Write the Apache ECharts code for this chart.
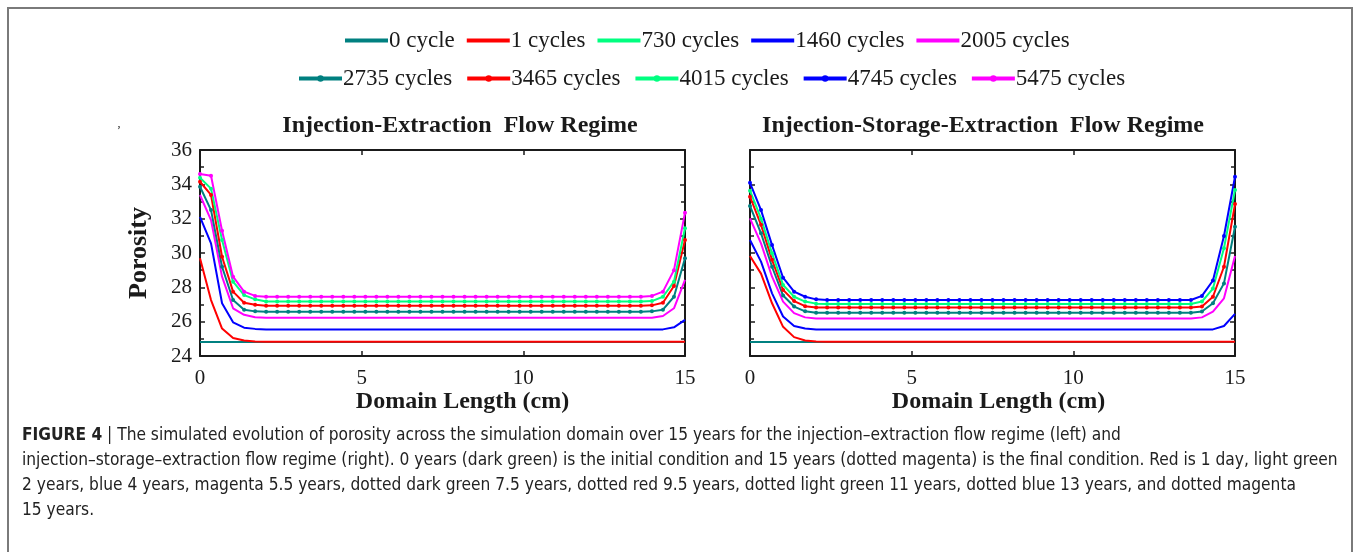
<!DOCTYPE html>
<html>
<head>
<meta charset="utf-8">
<script src="https://cdn.jsdelivr.net/npm/echarts@6/dist/echarts.min.js"></script>
<style>
  html, body { margin: 0; padding: 0; background: #fff; }
  #main { width: 1357px; height: 552px; }
</style>
</head>
<body>
<div id="main"></div>
<script>
var chartDom = document.getElementById('main');
var myChart = echarts.init(chartDom);
var option;

// node positions along the domain (cm)
const xs = [
  0, 0.341, 0.682, 1.023, 1.364, 1.705, 2.045, 2.386, 2.727,
  3.068, 3.409, 3.75, 4.091, 4.432, 4.773, 5.114, 5.455, 5.795,
  6.136, 6.477, 6.818, 7.159, 7.5, 7.841, 8.182, 8.523, 8.864,
  9.205, 9.545, 9.886, 10.227, 10.568, 10.909, 11.25, 11.591, 11.932,
  12.273, 12.614, 12.955, 13.295, 13.636, 13.977, 14.318, 14.659, 15,
];

const names = ['0 cycle', '1 cycles', '730 cycles', '1460 cycles', '2005 cycles',
  '2735 cycles', '3465 cycles', '4015 cycles', '4745 cycles', '5475 cycles'];
const colors = ['#008080', '#ff0000', '#00ff80', '#0000ff', '#ff00ff',
  '#008080', '#ff0000', '#00ff80', '#0000ff', '#ff00ff'];
const dotted = [false, false, false, false, false, true, true, true, true, true];

// left panel: injection-extraction
const left0 = [
  24.82, 24.82, 24.82, 24.82, 24.82, 24.82, 24.82, 24.82, 24.82,
  24.82, 24.82, 24.82, 24.82, 24.82, 24.82, 24.82, 24.82, 24.82,
  24.82, 24.82, 24.82, 24.82, 24.82, 24.82, 24.82, 24.82, 24.82,
  24.82, 24.82, 24.82, 24.82, 24.82, 24.82, 24.82, 24.82, 24.82,
  24.82, 24.82, 24.82, 24.82, 24.82, 24.82, 24.82, 24.82, 24.82,
];
const left1 = [
  29.7, 27.26, 25.6, 25.05, 24.9, 24.85, 24.83, 24.83, 24.83,
  24.83, 24.83, 24.83, 24.83, 24.83, 24.83, 24.83, 24.83, 24.83,
  24.83, 24.83, 24.83, 24.83, 24.83, 24.83, 24.83, 24.83, 24.83,
  24.83, 24.83, 24.83, 24.83, 24.83, 24.83, 24.83, 24.83, 24.83,
  24.83, 24.83, 24.83, 24.83, 24.83, 24.83, 24.83, 24.83, 24.83,
];
const left730 = [];
const left1460 = [
  32.1, 30.56, 27.07, 25.96, 25.65, 25.58, 25.55, 25.55, 25.55,
  25.55, 25.55, 25.55, 25.55, 25.55, 25.55, 25.55, 25.55, 25.55,
  25.55, 25.55, 25.55, 25.55, 25.55, 25.55, 25.55, 25.55, 25.55,
  25.55, 25.55, 25.55, 25.55, 25.55, 25.55, 25.55, 25.55, 25.55,
  25.55, 25.55, 25.55, 25.55, 25.55, 25.55, 25.55, 25.67, 26.1,
];
const left2005 = [
  33.38, 31.92, 28.62, 26.78, 26.4, 26.26, 26.23, 26.23, 26.23,
  26.23, 26.23, 26.23, 26.23, 26.23, 26.23, 26.23, 26.23, 26.23,
  26.23, 26.23, 26.23, 26.23, 26.23, 26.23, 26.23, 26.23, 26.23,
  26.23, 26.23, 26.23, 26.23, 26.23, 26.23, 26.23, 26.23, 26.23,
  26.23, 26.23, 26.23, 26.23, 26.23, 26.23, 26.33, 26.78, 28.43,
];
const left2735 = [
  33.86, 32.5, 29.2, 27.26, 26.7, 26.6, 26.58, 26.58, 26.58,
  26.58, 26.58, 26.58, 26.58, 26.58, 26.58, 26.58, 26.58, 26.58,
  26.58, 26.58, 26.58, 26.58, 26.58, 26.58, 26.58, 26.58, 26.58,
  26.58, 26.58, 26.58, 26.58, 26.58, 26.58, 26.58, 26.58, 26.58,
  26.58, 26.58, 26.58, 26.58, 26.58, 26.6, 26.7, 27.45, 29.69,
];
const left3465 = [
  34.15, 33.38, 29.78, 27.75, 27.1, 26.98, 26.93, 26.93, 26.93,
  26.93, 26.93, 26.93, 26.93, 26.93, 26.93, 26.93, 26.93, 26.93,
  26.93, 26.93, 26.93, 26.93, 26.93, 26.93, 26.93, 26.93, 26.93,
  26.93, 26.93, 26.93, 26.93, 26.93, 26.93, 26.93, 26.93, 26.93,
  26.93, 26.93, 26.93, 26.93, 26.93, 26.95, 27.1, 28.08, 30.76,
];
const left4015 = [
  34.38, 33.75, 30.76, 28.33, 27.55, 27.3, 27.17, 27.17, 27.17,
  27.17, 27.17, 27.17, 27.17, 27.17, 27.17, 27.17, 27.17, 27.17,
  27.17, 27.17, 27.17, 27.17, 27.17, 27.17, 27.17, 27.17, 27.17,
  27.17, 27.17, 27.17, 27.17, 27.17, 27.17, 27.17, 27.17, 27.17,
  27.17, 27.17, 27.17, 27.17, 27.17, 27.2, 27.45, 28.33, 31.44,
];
const left4745 = [];
const left5475 = [
  34.6, 34.5, 31.3, 28.62, 27.75, 27.5, 27.45, 27.45, 27.45,
  27.45, 27.45, 27.45, 27.45, 27.45, 27.45, 27.45, 27.45, 27.45,
  27.45, 27.45, 27.45, 27.45, 27.45, 27.45, 27.45, 27.45, 27.45,
  27.45, 27.45, 27.45, 27.45, 27.45, 27.45, 27.45, 27.45, 27.45,
  27.45, 27.45, 27.45, 27.45, 27.45, 27.5, 27.75, 29.0, 32.35,
];

// right panel: injection-storage-extraction
const right0 = [
  24.82, 24.82, 24.82, 24.82, 24.82, 24.82, 24.82, 24.82, 24.82,
  24.82, 24.82, 24.82, 24.82, 24.82, 24.82, 24.82, 24.82, 24.82,
  24.82, 24.82, 24.82, 24.82, 24.82, 24.82, 24.82, 24.82, 24.82,
  24.82, 24.82, 24.82, 24.82, 24.82, 24.82, 24.82, 24.82, 24.82,
  24.82, 24.82, 24.82, 24.82, 24.82, 24.82, 24.82, 24.82, 24.82,
];
const right1 = [
  29.82, 28.8, 27.07, 25.7, 25.1, 24.9, 24.85, 24.83, 24.83,
  24.83, 24.83, 24.83, 24.83, 24.83, 24.83, 24.83, 24.83, 24.83,
  24.83, 24.83, 24.83, 24.83, 24.83, 24.83, 24.83, 24.83, 24.83,
  24.83, 24.83, 24.83, 24.83, 24.83, 24.83, 24.83, 24.83, 24.83,
  24.83, 24.83, 24.83, 24.83, 24.83, 24.83, 24.83, 24.83, 24.83,
];
const right730 = [];
const right1460 = [
  30.76, 29.5, 27.65, 26.3, 25.75, 25.6, 25.55, 25.55, 25.55,
  25.55, 25.55, 25.55, 25.55, 25.55, 25.55, 25.55, 25.55, 25.55,
  25.55, 25.55, 25.55, 25.55, 25.55, 25.55, 25.55, 25.55, 25.55,
  25.55, 25.55, 25.55, 25.55, 25.55, 25.55, 25.55, 25.55, 25.55,
  25.55, 25.55, 25.55, 25.55, 25.55, 25.55, 25.55, 25.75, 26.45,
];
const right2005 = [
  32.02, 30.56, 28.62, 27.17, 26.5, 26.25, 26.19, 26.19, 26.19,
  26.19, 26.19, 26.19, 26.19, 26.19, 26.19, 26.19, 26.19, 26.19,
  26.19, 26.19, 26.19, 26.19, 26.19, 26.19, 26.19, 26.19, 26.19,
  26.19, 26.19, 26.19, 26.19, 26.19, 26.19, 26.19, 26.19, 26.19,
  26.19, 26.19, 26.19, 26.19, 26.19, 26.25, 26.58, 27.36, 29.82,
];
const right2735 = [
  32.74, 31.15, 29.2, 27.52, 26.88, 26.6, 26.52, 26.52, 26.52,
  26.52, 26.52, 26.52, 26.52, 26.52, 26.52, 26.52, 26.52, 26.52,
  26.52, 26.52, 26.52, 26.52, 26.52, 26.52, 26.52, 26.52, 26.52,
  26.52, 26.52, 26.52, 26.52, 26.52, 26.52, 26.52, 26.52, 26.52,
  26.52, 26.52, 26.52, 26.52, 26.52, 26.59, 27.07, 28.23, 31.53,
];
const right3465 = [
  33.28, 31.64, 29.6, 27.85, 27.2, 26.9, 26.82, 26.82, 26.82,
  26.82, 26.82, 26.82, 26.82, 26.82, 26.82, 26.82, 26.82, 26.82,
  26.82, 26.82, 26.82, 26.82, 26.82, 26.82, 26.82, 26.82, 26.82,
  26.82, 26.82, 26.82, 26.82, 26.82, 26.82, 26.82, 26.82, 26.82,
  26.82, 26.82, 26.82, 26.82, 26.82, 26.88, 27.45, 29.2, 32.85,
];
const right4015 = [
  33.63, 32.0, 29.98, 28.14, 27.45, 27.17, 27.05, 27.03, 27.03,
  27.03, 27.03, 27.03, 27.03, 27.03, 27.03, 27.03, 27.03, 27.03,
  27.03, 27.03, 27.03, 27.03, 27.03, 27.03, 27.03, 27.03, 27.03,
  27.03, 27.03, 27.03, 27.03, 27.03, 27.03, 27.03, 27.03, 27.03,
  27.03, 27.03, 27.03, 27.03, 27.03, 27.17, 27.93, 30.28, 33.67,
];
const right4745 = [
  34.09, 32.5, 30.46, 28.56, 27.75, 27.45, 27.3, 27.26, 27.26,
  27.26, 27.26, 27.26, 27.26, 27.26, 27.26, 27.26, 27.26, 27.26,
  27.26, 27.26, 27.26, 27.26, 27.26, 27.26, 27.26, 27.26, 27.26,
  27.26, 27.26, 27.26, 27.26, 27.26, 27.26, 27.26, 27.26, 27.26,
  27.26, 27.26, 27.26, 27.26, 27.26, 27.5, 28.4, 30.99, 34.44,
];
const right5475 = [];

const leftSets = [left0, left1, left730, left1460, left2005, left2735, left3465, left4015, left4745, left5475];
const rightSets = [right0, right1, right730, right1460, right2005, right2735, right3465, right4015, right4745, right5475];

const titles = ['Injection-Extraction  Flow Regime', 'Injection-Storage-Extraction  Flow Regime'];
const caption = [
  '{b|FIGURE 4} | The simulated evolution of porosity across the simulation domain over 15 years for the injection\u2013extraction flow regime (left) and',
  'injection\u2013storage\u2013extraction flow regime (right). 0 years (dark green) is the initial condition and 15 years (dotted magenta) is the final condition. Red is 1 day, light green',
  '2 years, blue 4 years, magenta 5.5 years, dotted dark green 7.5 years, dotted red 9.5 years, dotted light green 11 years, dotted blue 13 years, and dotted magenta',
  '15 years.',
];

const serif = 'Liberation Serif';
const sans = '"Liberation Sans Narrow", "DejaVu Sans Condensed", sans-serif';
const ink = '#1a1a1a';

function makeSeries(sets, gridIdx) {
  return sets.map((arr, k) => ({
    name: names[k],
    type: 'line',
    xAxisIndex: gridIdx * 2,
    yAxisIndex: gridIdx * 2,
    data: arr.map((v, i) => [xs[i], v]),
    symbol: dotted[k] ? 'circle' : 'none',
    symbolSize: 4,
    showSymbol: dotted[k],
    color: colors[k],
    lineStyle: { width: 2, color: colors[k] },
    itemStyle: { color: colors[k] },
    animation: false,
    silent: true,
  }));
}

function xPair(g) {
  const tick = { show: true, inside: true, length: 5, lineStyle: { color: ink, width: 1.5 } };
  const line = { show: true, onZero: false, lineStyle: { color: ink, width: 2 } };
  return [
    {
      gridIndex: g, type: 'value', min: 0, max: 15, interval: 5,
      axisLine: line, axisTick: tick, splitLine: { show: false },
      axisLabel: { color: ink, fontFamily: serif, fontSize: 21, margin: 12 },
      name: 'Domain Length (cm)', nameLocation: 'middle', nameGap: 30,
      nameTextStyle: { color: ink, fontFamily: serif, fontSize: 24, fontWeight: 'bold',
        padding: g === 0 ? [0, 0, 0, 40] : [0, 0, 0, 12] },
    },
    {
      gridIndex: g, type: 'value', position: 'top', min: 0, max: 15, interval: 5,
      axisLine: line, axisTick: tick, splitLine: { show: false }, axisLabel: { show: false },
    },
  ];
}

function yPair(g) {
  const tick = { show: true, inside: true, length: 5, lineStyle: { color: ink, width: 1.5 } };
  const minor = { show: true, splitNumber: 2, length: 4, lineStyle: { color: ink, width: 1.5 } };
  const line = { show: true, onZero: false, lineStyle: { color: ink, width: 2 } };
  return [
    {
      gridIndex: g, type: 'value', min: 24, max: 36, interval: 2,
      axisLine: line, axisTick: tick, minorTick: minor, splitLine: { show: false },
      axisLabel: { show: g === 0, color: ink, fontFamily: serif, fontSize: 21, margin: 8 },
      name: g === 0 ? 'Porosity' : '', nameLocation: 'middle', nameGap: 48,
      nameTextStyle: { color: ink, fontFamily: serif, fontSize: 26, fontWeight: 'bold' },
    },
    {
      gridIndex: g, type: 'value', position: 'right', min: 24, max: 36, interval: 2,
      axisLine: line, axisTick: tick, minorTick: minor, splitLine: { show: false },
      axisLabel: { show: false },
    },
  ];
}

const legendText = { color: ink, fontFamily: serif, fontSize: 23, padding: [0, 0, 0, -4] };

option = {
  backgroundColor: '#fff',
  animation: false,
  legend: [
    {
      top: 29, left: 345, padding: 0, itemWidth: 43, itemHeight: 4, itemGap: 12, selectedMode: false,
      icon: 'rect', textStyle: legendText, data: names.slice(0, 5),
    },
    {
      top: 67, left: 297, padding: 0, itemWidth: 43, itemHeight: 8, itemGap: 13, selectedMode: false,
      lineStyle: { width: 4 }, textStyle: legendText, data: names.slice(5),
    },
  ],
  grid: [
    { left: 200, top: 150, width: 485, height: 206 },
    { left: 750, top: 150, width: 485, height: 206 },
  ],
  xAxis: xPair(0).concat(xPair(1)),
  yAxis: yPair(0).concat(yPair(1)),
  series: makeSeries(leftSets, 0).concat(makeSeries(rightSets, 1)),
  graphic: [
    {
      type: 'rect', shape: { x: 8, y: 8, width: 1344, height: 580 },
      style: { fill: null, stroke: '#7a7a7a', lineWidth: 2 }, silent: true,
    },
    {
      type: 'text', x: 460, y: 126,
      style: { text: titles[0], fill: ink, font: 'bold 24px "Liberation Serif"', align: 'center', verticalAlign: 'middle' },
    },
    {
      type: 'text', x: 983, y: 126,
      style: { text: titles[1], fill: ink, font: 'bold 24px "Liberation Serif"', align: 'center', verticalAlign: 'middle' },
    },
    {
      type: 'text', x: 119, y: 124,
      style: { text: ',', fill: ink, font: '12px "Liberation Serif"', align: 'center', verticalAlign: 'middle' },
    },
  ].concat(caption.map((line, i) => ({
    type: 'text', x: 22, y: 436 + i * 24.7,
    style: {
      text: line, fill: '#222', fontFamily: sans, fontSize: 17.2, verticalAlign: 'middle',
      rich: { b: { fontWeight: 'bold', fontSize: 17.2, fill: '#222', fontFamily: sans } },
    },
  }))),
};

option && myChart.setOption(option);
</script>
</body>
</html>
